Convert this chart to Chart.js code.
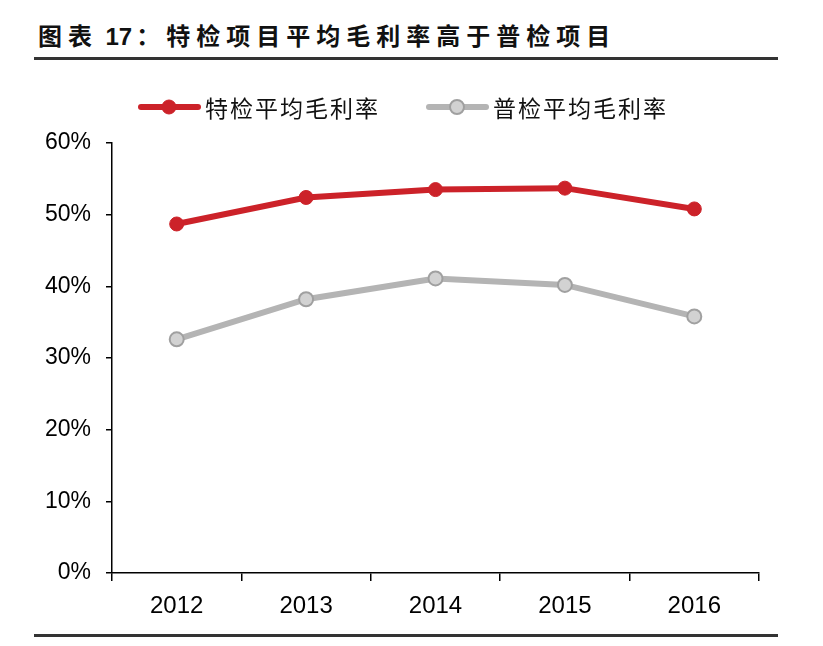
<!DOCTYPE html>
<html>
<head>
<meta charset="utf-8">
<script src="https://cdn.jsdelivr.net/npm/chart.js"></script>
<style>
  body { margin: 0; background: #fff; }
  #wrap { position: relative; width: 823px; height: 646px; }
  #title { position: absolute; left: 38px; top: 17px; font: 700 24px "Noto Sans CJK SC", sans-serif; letter-spacing: 6px; color: #111; white-space: nowrap; }
  #title .num { font-family: "Liberation Sans", Arial, sans-serif; letter-spacing: 0; margin-left: -4px; margin-right: 4px; }
  .rule { position: absolute; left: 34px; width: 744px; height: 3px; background: #333; }
  canvas { position: absolute; left: 0; top: 0; }
</style>
</head>
<body>
<div id="wrap">
  <div id="title">图表 <span class="num">17</span>：特检项目平均毛利率高于普检项目</div>
  <div class="rule" style="top:57px"></div>
  <canvas id="c" width="823" height="646"></canvas>
  <div class="rule" style="top:634px"></div>
</div>
<script>
// 毛利率, in %
const years = ['2012', '2013', '2014', '2015', '2016'];
const specialMargin = [48.7, 52.4, 53.5, 53.7, 50.8];  // 特检
const generalMargin = [32.6, 38.2, 41.1, 40.2, 35.8];  // 普检
const yTicks = [0, 10, 20, 30, 40, 50, 60];

const RED = '#cc2229';
const GREY = '#b4b4b4';

// legend: line + marker + text, drawn by hand to look like the original
const legendPlugin = {
  id: 'legendPlugin',
  afterDraw(chart) {
    const ctx = chart.ctx;
    const items = [
      { x: 139, label: '特检平均毛利率', ds: chart.data.datasets[0] },
      { x: 427, label: '普检平均毛利率', ds: chart.data.datasets[1] }
    ];
    const y = 107;
    ctx.save();
    items.forEach(it => {
      ctx.strokeStyle = it.ds.borderColor;
      ctx.lineWidth = 6;
      ctx.lineCap = 'round';
      ctx.beginPath();
      ctx.moveTo(it.x + 2, y);
      ctx.lineTo(it.x + 59, y);
      ctx.stroke();
      ctx.beginPath();
      ctx.arc(it.x + 30, y, it.ds.pointRadius, 0, Math.PI * 2);
      ctx.fillStyle = it.ds.pointBackgroundColor;
      ctx.fill();
      ctx.lineWidth = it.ds.pointBorderWidth;
      ctx.strokeStyle = it.ds.pointBorderColor;
      ctx.stroke();
      ctx.fillStyle = '#111';
      ctx.font = '23px "Noto Sans CJK SC"';
      ctx.textBaseline = 'middle';
      let tx = it.x + 66;
      for (const ch of it.label) {
        ctx.fillText(ch, tx, y + 1);
        tx += 25;
      }
    });
    ctx.restore();
  }
};

new Chart(document.getElementById('c'), {
  type: 'line',
  data: {
    labels: years,
    datasets: [{
      label: '特检平均毛利率',
      data: specialMargin,
      borderColor: RED,
      borderWidth: 6,
      pointRadius: 7,
      pointBackgroundColor: RED,
      pointBorderColor: RED,
      pointBorderWidth: 1
    }, {
      label: '普检平均毛利率',
      data: generalMargin,
      borderColor: GREY,
      borderWidth: 6,
      pointRadius: 7,
      pointBackgroundColor: '#d2d2d2',
      pointBorderColor: '#a0a0a0',
      pointBorderWidth: 2
    }]
  },
  options: {
    responsive: false,
    animation: false,
    layout: { padding: { left: 0, top: 143, right: 64, bottom: 23 } },
    plugins: { legend: { display: false }, tooltip: { enabled: false } },
    scales: {
      x: {
        offset: true,
        grid: { offset: true, drawOnChartArea: false, color: '#000', tickLength: 8, lineWidth: 1.5 },
        border: { color: '#000', width: 1.5 },
        ticks: { color: '#000', padding: 11, font: { family: 'Liberation Sans', size: 24 } },
        afterFit(s) { s.height = 50; }
      },
      y: {
        min: 0,
        max: 60,
        afterBuildTicks(s) { s.ticks = yTicks.map(v => ({ value: v })); },
        grid: { drawOnChartArea: false, color: '#000', tickLength: 6, lineWidth: 1.5 },
        border: { color: '#000', width: 1.5 },
        ticks: { color: '#000', padding: 15, font: { family: 'Liberation Sans', size: 23 }, callback: v => v + '%' },
        afterFit(s) { s.width = 112; }
      }
    }
  },
  plugins: [legendPlugin]
});
</script>
</body>
</html>
